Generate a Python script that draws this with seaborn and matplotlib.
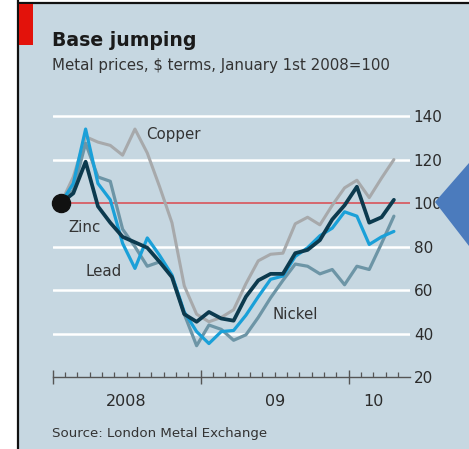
import numpy as np
import pandas as pd
import matplotlib
matplotlib.use("Agg")
import matplotlib.pyplot as plt
from matplotlib.patches import Rectangle, Polygon
from matplotlib.lines import Line2D
from matplotlib.ticker import FixedLocator, NullFormatter
import seaborn as sns

# Monthly metal prices, $ terms, indexed to January 1st 2008 = 100
# x: months elapsed since January 1st 2008
months = [0.67 + i for i in range(28)]
copper = [100, 112, 130.5, 128, 126.5, 122, 134, 123, 107.5, 91, 62, 49, 45.5, 47.5,
          51, 63, 73.5, 76.5, 77, 90.5, 93.5, 90, 99, 107, 110.5, 102.5, 111.5, 120]
nickel = [100, 106, 127.5, 112, 110, 88, 80, 71, 73, 66.5, 49, 34.5, 44, 42,
          37, 39.5, 47.5, 56.5, 64.5, 72, 71, 67.5, 69.5, 62.5, 71, 69.5, 81.5, 94]
lead = [100, 109, 134, 109, 101.5, 81.5, 70, 84, 76, 67, 50, 41, 35.5, 41,
        41.5, 48.5, 57, 65, 66.5, 75.5, 79.5, 85, 88.5, 96, 94, 81, 84.5, 87]
zinc = [100, 104.5, 119, 98.5, 91, 84.5, 82, 79.5, 73, 66, 49, 45.5, 50, 47,
        46, 57, 64.5, 67.5, 67.5, 77, 78.5, 83, 92.5, 99, 107.5, 91, 93.5, 101.5]

metals = ["Copper", "Nickel", "Lead", "Zinc"]
palette = {"Copper": "#a7a9ab", "Nickel": "#6d95a6", "Lead": "#1aa0d8", "Zinc": "#0c3a4e"}
widths = {"Copper": 2.2, "Nickel": 2.3, "Lead": 2.3, "Zinc": 2.7}

y_ticks = [20, 40, 60, 80, 100, 120, 140]
year_labels = ["2008", "09", "10"]
year_label_pos = [6, 18, 26]

df = pd.DataFrame({
    "month": months * 4,
    "index": copper + nickel + lead + zinc,
    "metal": np.repeat(metals, len(months)),
})

sns.set_style("white")
plt.rcParams["font.family"] = ["DejaVu Sans"]

W, H = 469, 449
fig = plt.figure(figsize=(W / 100, H / 100), dpi=100)
fig.patch.set_facecolor("white")

def fx(px):
    return px / W

def fy(py):
    return 1 - py / H

# panel background, frame and red tag
fig.patches.append(Rectangle((fx(19), 0), 1 - fx(19), fy(4), transform=fig.transFigure,
                             facecolor="#c6d7e1", edgecolor="none", zorder=-5))
fig.lines.append(Line2D([fx(18), fx(18)], [0, 1], transform=fig.transFigure,
                        color="#111111", lw=1.6, zorder=1))
fig.lines.append(Line2D([fx(18), 1], [fy(3), fy(3)], transform=fig.transFigure,
                        color="#111111", lw=1.6, zorder=1))
fig.patches.append(Rectangle((fx(19), fy(45)), fx(13.5), fy(4) - fy(45), transform=fig.transFigure,
                             facecolor="#e3120b", edgecolor="none", zorder=2))

x0, x1 = 52.7, 410.3
y_lo, y_hi = 377.3, 105.1
ax = fig.add_axes([fx(x0), fy(y_lo), fx(x1) - fx(x0), (y_lo - y_hi) / H])
ax.set_facecolor("none")
ax.set_xlim(0, 29)
ax.set_ylim(20, 145)

# horizontal rules
for v in [40, 60, 80, 120, 140]:
    ax.axhline(v, color="white", lw=1.8, zorder=1)
ax.axhline(100, color="#d9545a", lw=1.2, zorder=1)

for m in metals:
    sns.lineplot(data=df[df["metal"] == m], x="month", y="index", color=palette[m],
                 lw=widths[m], ax=ax, zorder=3, legend=False, estimator=None)

ax.plot([months[0]], [zinc[0]], marker="o", ms=13, color="#111111", zorder=5, clip_on=False)

for s in ["top", "left", "right"]:
    ax.spines[s].set_visible(False)
ax.spines["bottom"].set_color("#555555")
ax.spines["bottom"].set_linewidth(1.0)

ax.xaxis.set_major_locator(FixedLocator([0, 12, 24]))
ax.xaxis.set_minor_locator(FixedLocator([m for m in range(1, 29) if m % 12 != 0]))
ax.xaxis.set_major_formatter(NullFormatter())
ax.tick_params(axis="x", which="both", bottom=True)
ax.tick_params(axis="x", which="major", direction="inout", length=10, width=1.0, color="#555555")
ax.tick_params(axis="x", which="minor", direction="in", length=3.5, width=0.9, color="#555555")
ax.set_xlabel("")
ax.set_ylabel("")

ax.yaxis.tick_right()
ax.set_yticks(y_ticks)
ax.set_yticklabels([str(t) for t in y_ticks])
ax.tick_params(axis="y", length=0, pad=2.5, labelsize=11, labelcolor="#2b2b2b")

xt = ax.get_xaxis_transform()
for lab, pos in zip(year_labels, year_label_pos):
    ax.text(pos, -0.088, lab, transform=xt, ha="center", va="center",
            fontsize=11.5, color="#2b2b2b")

# series labels
lab_kw = dict(fontsize=10.8, color="#333333", va="center", ha="left", zorder=6)
ax.text(7.55, 131.3, "Copper", **lab_kw)
ax.text(1.25, 89.0, "Zinc", **lab_kw)
ax.text(2.7, 68.4, "Lead", **lab_kw)
ax.text(17.85, 49.0, "Nickel", **lab_kw)

fig.text(fx(52), fy(46), "Base jumping", fontsize=13.6, fontweight="bold",
         color="#1a1a1a", ha="left", va="baseline")
fig.text(fx(52), fy(70), "Metal prices, $ terms, January 1st 2008=100", fontsize=10.8,
         color="#333333", ha="left", va="baseline")
fig.text(fx(52), fy(437), "Source: London Metal Exchange", fontsize=9.6,
         color="#333333", ha="left", va="baseline")

# blue pointer at the right edge
fig.patches.append(Polygon([(fx(435), fy(202)), (1.0, fy(163)), (1.0, fy(246))],
                           closed=True, transform=fig.transFigure,
                           facecolor="#4b7bbd", edgecolor="none", zorder=10))

fig.savefig("out.png", dpi=100, facecolor=fig.get_facecolor())
